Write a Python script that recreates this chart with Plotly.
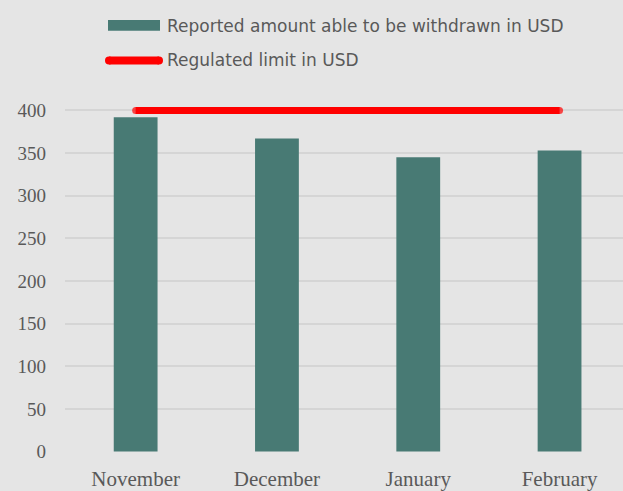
import plotly.graph_objects as go

# Monthly figures
months = ["November", "December", "January", "February"]
reported_usd = [392, 367, 345, 353]
limit_usd = [400, 400, 400, 400]
y_ticks = [0, 50, 100, 150, 200, 250, 300, 350, 400]

BAR_COLOR = "#487a74"
LIMIT_COLOR = "#ff0000"
BG = "#e5e5e5"
GRID = "#d5d5d5"
TEXT = "#595959"

W, H = 623, 491
ML, MR, MT, MB = 65, 0, 100, 35
PW, PH = W - ML - MR, H - MT - MB


def px_x(px):
    return (px - ML) / PW


def px_y(py):
    return (H - MB - py) / PH


fig = go.Figure()
fig.add_trace(go.Bar(
    x=months, y=reported_usd, width=0.31,
    marker=dict(color=BAR_COLOR, line=dict(width=0)),
    name="Reported amount able to be withdrawn in USD",
))
# Limit line; end markers give it rounded caps
cap_sizes = [7 if i in (0, len(months) - 1) else 0 for i in range(len(months))]
fig.add_trace(go.Scatter(
    x=months, y=limit_usd, mode="lines+markers",
    line=dict(color=LIMIT_COLOR, width=7),
    marker=dict(color=LIMIT_COLOR, size=cap_sizes, line=dict(width=0)),
    name="Regulated limit in USD",
))

# Legend drawn above the plot area
legend_font = dict(family="DejaVu Sans", size=17, color=TEXT)
shapes = [
    dict(type="rect", xref="paper", yref="paper",
         x0=px_x(108), x1=px_x(160), y0=px_y(30), y1=px_y(19),
         fillcolor=BAR_COLOR, line=dict(width=0), layer="above"),
    dict(type="line", xref="paper", yref="paper",
         x0=px_x(109), x1=px_x(159), y0=px_y(60), y1=px_y(60),
         line=dict(color=LIMIT_COLOR, width=8), layer="above"),
]
for cx in (109, 159):
    shapes.append(dict(
        type="circle", xref="paper", yref="paper",
        xsizemode="pixel", ysizemode="pixel",
        xanchor=px_x(cx), yanchor=px_y(60),
        x0=-4, x1=4, y0=-4, y1=4,
        fillcolor=LIMIT_COLOR, line=dict(width=0), layer="above",
    ))
annotations = [
    dict(text="Reported amount able to be withdrawn in USD", xref="paper", yref="paper",
         x=px_x(165), y=px_y(25), xanchor="left", yanchor="middle",
         showarrow=False, font=legend_font),
    dict(text="Regulated limit in USD", xref="paper", yref="paper",
         x=px_x(165), y=px_y(60), xanchor="left", yanchor="middle",
         showarrow=False, font=legend_font),
]

fig.update_layout(
    width=W, height=H,
    margin=dict(l=ML, r=MR, t=MT, b=MB, pad=0),
    paper_bgcolor=BG, plot_bgcolor=BG,
    showlegend=False,
    shapes=shapes, annotations=annotations,
    xaxis=dict(
        type="category", range=[-0.5, 3.449],
        showgrid=False, showline=False, zeroline=False,
        tickfont=dict(family="Liberation Serif", size=21, color=TEXT),
        ticks="", ticklabelstandoff=12,
    ),
    yaxis=dict(
        range=[-0.5, PH / 0.8625 - 0.5],
        tickvals=y_ticks,
        showgrid=True, gridcolor=GRID, gridwidth=2,
        zeroline=False, showline=False,
        tickfont=dict(family="Liberation Serif", size=19, color=TEXT),
        ticks="", ticklabelstandoff=18,
    ),
)

fig.write_html("out.html")
